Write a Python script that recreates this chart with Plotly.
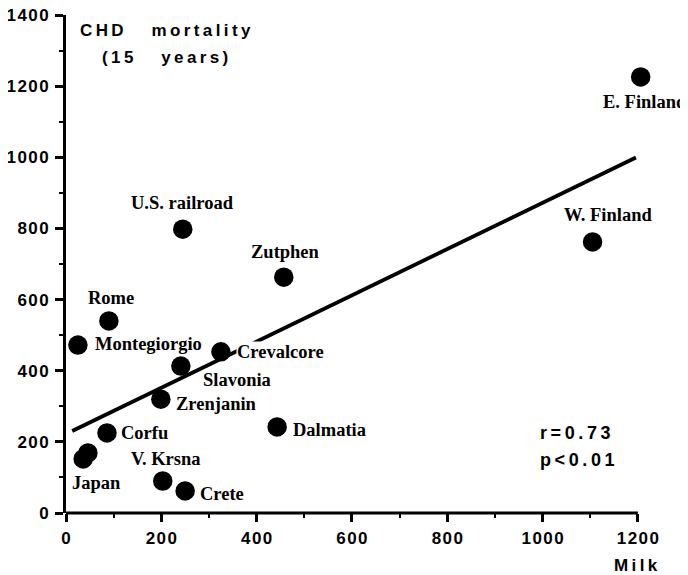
import plotly.graph_objects as go

# ---- data ----
cohorts = ["E. Finland", "W. Finland", "U.S. railroad", "Zutphen", "Rome",
           "Montegiorgio", "Crevalcore", "Slavonia", "Zrenjanin", "Corfu",
           "Japan", "Japan", "V. Krsna", "Crete", "Dalmatia"]
milk = [1206, 1105, 245, 457, 90, 25, 325, 241, 199, 86, 36, 46, 203, 250, 443]
chd_mortality = [1226, 762, 798, 663, 540, 472, 453, 413, 320, 225, 152, 169, 90, 62, 242]

fit_intercept = 222
fit_slope = 0.65
fit_x = [13, 1196]

x_ticks = [0, 200, 400, 600, 800, 1000, 1200]
y_ticks = [0, 200, 400, 600, 800, 1000, 1200, 1400]
stat_lines = ["r=0.73", "p<0.01"]
title_lines = ["CHD   mortality", "(15   years)"]
x_title = "Milk"

# ---- styling ----
THIN = "\u2009"
HAIR = "\u200a"
SANS = "Liberation Sans"
SERIF = "Liberation Serif"


def track(s, sp=THIN):
    return sp.join("\u00a0" if c == " " else c for c in s)


# label placement: (xanchor, xshift, yshift) in pixels
label_pos = {
    "E. Finland": ("center", 4, -25),
    "W. Finland": ("center", 15, 27),
    "U.S. railroad": ("center", 0, 26),
    "Zutphen": ("center", 2, 25),
    "Rome": ("center", 2, 23),
    "Montegiorgio": ("left", 16, 1),
    "Crevalcore": ("left", 15, 0),
    "Slavonia": ("left", 21, -14),
    "Zrenjanin": ("left", 14, -5),
    "Corfu": ("left", 13, 0),
    "Japan": ("left", -12, -24),
    "V. Krsna": ("center", 3, 22),
    "Crete": ("left", 14, -3),
    "Dalmatia": ("left", 15, -3),
}

fit_y = [fit_intercept + fit_slope * v for v in fit_x]

fig = go.Figure()
fig.add_trace(go.Scatter(x=fit_x, y=fit_y, mode="lines",
                         line=dict(color="black", width=3.8),
                         hoverinfo="skip", showlegend=False))
fig.add_trace(go.Scatter(x=milk, y=chd_mortality, mode="markers",
                         marker=dict(color="black", size=19.5),
                         cliponaxis=False, text=cohorts, showlegend=False))

annotations = []
seen = set()
for name, xv, yv in zip(cohorts, milk, chd_mortality):
    if name in seen:
        continue
    seen.add(name)
    anchor, dx, dy = label_pos[name]
    annotations.append(dict(
        x=xv, y=yv, xref="x", yref="y", text=name, showarrow=False,
        xanchor=anchor, yanchor="middle", xshift=dx, yshift=dy,
        font=dict(family=SERIF, size=18.5, color="black", weight="bold"),
        bgcolor="white" if name == "Crevalcore" else None,
        borderpad=0,
    ))

# title lines (paper coords: plot area x 66..645, y 15..513 in the window)
for txt, yp in zip(title_lines, [0.968, 0.914]):
    annotations.append(dict(
        x=0.171, y=yp, xref="paper", yref="paper", text=track(txt),
        showarrow=False, xanchor="center", yanchor="middle",
        font=dict(family=SANS, size=17, color="black", weight="bold")))

for txt, yp in zip(stat_lines, [0.161, 0.107]):
    annotations.append(dict(
        x=0.815, y=yp, xref="paper", yref="paper", text=track(txt),
        showarrow=False, xanchor="left", yanchor="middle",
        font=dict(family=SANS, size=18, color="black", weight="bold")))

annotations.append(dict(
    x=1.026, y=-0.106, xref="paper", yref="paper", text=track(x_title),
    showarrow=False, xanchor="right", yanchor="middle",
    font=dict(family=SANS, size=17, color="black", weight="bold")))

axis_common = dict(
    linecolor="black", linewidth=3, mirror=False, automargin=False,
    ticks="outside", ticklen=8, tickwidth=3, tickcolor="black",
    showgrid=False, zeroline=False, ticklabeloverflow="allow",
    tickfont=dict(family=SANS, size=17, color="black", weight="bold"),
    minor=dict(ticks="outside", ticklen=4, tickwidth=2, tickcolor="black", dtick=100, showgrid=False),
)

# the page body adds an 8px margin, so the figure is 8px smaller and shifted
fig.update_layout(
    width=680, height=567,
    margin=dict(l=58, r=43, t=7, b=62),
    paper_bgcolor="white", plot_bgcolor="white",
    xaxis=dict(range=[0, 1215], tickvals=x_ticks, showline=False,
               ticklabelstandoff=2,
               ticktext=[track(str(v), HAIR) for v in x_ticks], **axis_common),
    yaxis=dict(range=[0, 1400], tickvals=y_ticks, showline=True,
               ticklabelstandoff=3,
               ticktext=[track(str(v), HAIR) for v in y_ticks], **axis_common),
    annotations=annotations,
    showlegend=False,
    shapes=[dict(type="line", xref="x", yref="paper", x0=0, x1=x_ticks[-1], y0=0, y1=0,
                 line=dict(color="black", width=3), layer="above")],
)

fig.write_html("out.html")
